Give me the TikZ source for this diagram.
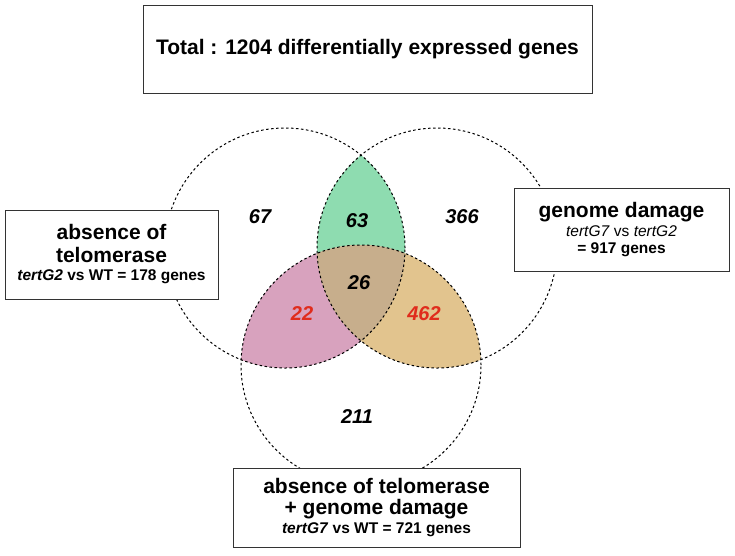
\documentclass[tikz,border=0pt]{standalone}
\usepackage{fontspec}
\setmainfont{Liberation Sans}
\definecolor{lensgreen}{RGB}{142,220,176}
\definecolor{lenspink}{RGB}{216,162,190}
\definecolor{lensorange}{RGB}{226,196,142}
\definecolor{lenscore}{RGB}{199,174,140}
\definecolor{countred}{RGB}{224,44,28}
\newcommand\venL{(285,248) circle (120pt)}
\newcommand\venR{(437,248) circle (120pt)}
\newcommand\venB{(361,365) circle (120pt)}
\newcommand\smalltext{\fontsize{15.5}{18}\selectfont}
\tikzset{
    setbox/.style={
        draw=black!80,
        line width=0.9pt,
        fill=white,
        align=center,
        inner sep=0pt,
        font=\fontsize{21}{23}\selectfont\bfseries
    },
    setline/.style={
        dash pattern=on 2.5pt off 2.5pt,
        line width=1pt
    },
    count/.style={font=\fontsize{20}{24}\selectfont\bfseries\itshape},
    hit/.style={count, text=countred}
}
\begin{document}
\begin{tikzpicture}[x=1pt, y=-1pt]
\useasboundingbox (0,0) rectangle (735,555);

% coloured overlaps
\begin{scope}\clip \venL; \fill[lensgreen] \venR; \end{scope}
\begin{scope}\clip \venL; \fill[lenspink] \venB; \end{scope}
\begin{scope}\clip \venR; \fill[lensorange] \venB; \end{scope}
\begin{scope}\clip \venL; \clip \venR; \fill[lenscore] \venB; \end{scope}

\draw[setline] \venL;
\draw[setline] \venR;
\draw[setline] \venB;

% boxes
\node[setbox, minimum width=449pt, minimum height=88pt] (total) at (367.5,49)
    {Total : 1204 differentially expressed genes};
\node[setbox, minimum width=213pt, minimum height=89pt] (telo) at (111.5,254.5)
    {absence of\\
     telomerase\\[-5pt]
     {\smalltext\textit{tertG2} vs WT = 178 genes}};
\node[setbox, minimum width=215pt, minimum height=83pt] (geno) at (621.5,229.5)
    {genome damage\\[-4pt]
     {\smalltext\mdseries\textit{tertG7} vs \textit{tertG2}}\\[-6pt]
     {\smalltext = 917 genes}};
\node[setbox, minimum width=287pt, minimum height=79pt] (both) at (376.5,507.5)
    {absence of telomerase\\[-2pt]
     + genome damage\\[-4pt]
     {\smalltext\textit{tertG7} vs WT = 721 genes}};

% counts
\node[count] (onlyL) at (260,217) {67};
\node[count] (LR) at (357,221) {63};
\node[count] (onlyR) at (462,217) {366};
\node[count] (LRB) at (359,283) {26};
\node[hit] (LB) at (302,314) {22};
\node[hit] (RB) at (424,314) {462};
\node[count] (onlyB) at (357,417) {211};

\end{tikzpicture}
\end{document}
